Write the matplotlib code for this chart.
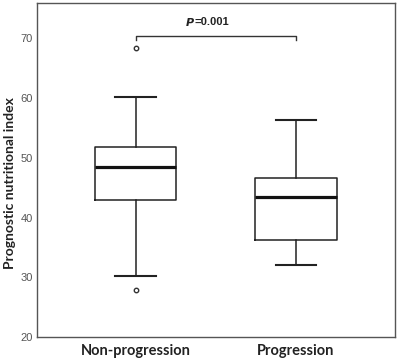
import matplotlib
matplotlib.use("Agg")
import matplotlib.pyplot as plt

# values
groups = ["Non-progression", "Progression"]
q1 = [43.0, 36.3]
medians = [48.5, 43.4]
q3 = [51.8, 46.6]
whisker_low = [30.2, 32.0]
whisker_high = [60.2, 56.4]
outliers = [[68.4, 27.8], []]
p_text = "0.001"
bracket_y = 70.4
yticks = [20, 30, 40, 50, 60, 70]

fig = plt.figure(figsize=(3.98, 3.58), dpi=100)
ax = fig.add_axes([37 / 398, 21 / 358, 358 / 398, 334 / 358])

stats = []
for i, name in enumerate(groups):
    stats.append(
        dict(
            label=name,
            q1=q1[i],
            med=medians[i],
            q3=q3[i],
            whislo=whisker_low[i],
            whishi=whisker_high[i],
            fliers=outliers[i],
        )
    )

ax.bxp(
    stats,
    positions=[1, 2],
    widths=0.505,
    showfliers=True,
    boxprops=dict(color="#222222", linewidth=1.1),
    whiskerprops=dict(color="#222222", linewidth=1.1),
    capprops=dict(color="#222222", linewidth=1.5),
    capwidths=0.25,
    medianprops=dict(color="#111111", linewidth=2.3),
    flierprops=dict(marker="o", markersize=3.2, markerfacecolor="white",
                    markeredgecolor="#333333", markeredgewidth=1.0),
)

# significance bracket
ax.plot([1, 1, 2, 2], [bracket_y - 0.7, bracket_y, bracket_y, bracket_y - 0.7],
        color="#333333", linewidth=1.0)
ax.text(1.37, 72.7, r"$\bfit{P}$", ha="right", va="center", fontsize=8, color="#222222")
ax.text(1.37, 72.7, "=" + p_text, ha="left", va="center", fontsize=8,
        fontweight="bold", color="#222222", family="Liberation Sans")

ax.set_xlim(0.386, 2.617)
ax.set_ylim(20, 75.9)
ax.set_yticks(yticks)
ax.set_yticklabels([str(t) for t in yticks], family="Liberation Sans",
                   fontsize=8, color="#555555")
ax.set_xticks([1, 2])
ax.set_xticklabels(groups, family="Lato", fontsize=10.5, fontweight="bold",
                   color="#222222")
ax.tick_params(axis="both", length=0)
ax.tick_params(axis="y", pad=3)
ax.tick_params(axis="x", pad=5)
fig.text(10 / 398, 0.49, "Prognostic nutritional index", family="Lato", fontsize=10,
         fontweight="bold", color="#222222", rotation=90, ha="center", va="center")

for s in ax.spines.values():
    s.set_color("#555555")
    s.set_linewidth(1.0)

fig.savefig("out.png", dpi=100)
